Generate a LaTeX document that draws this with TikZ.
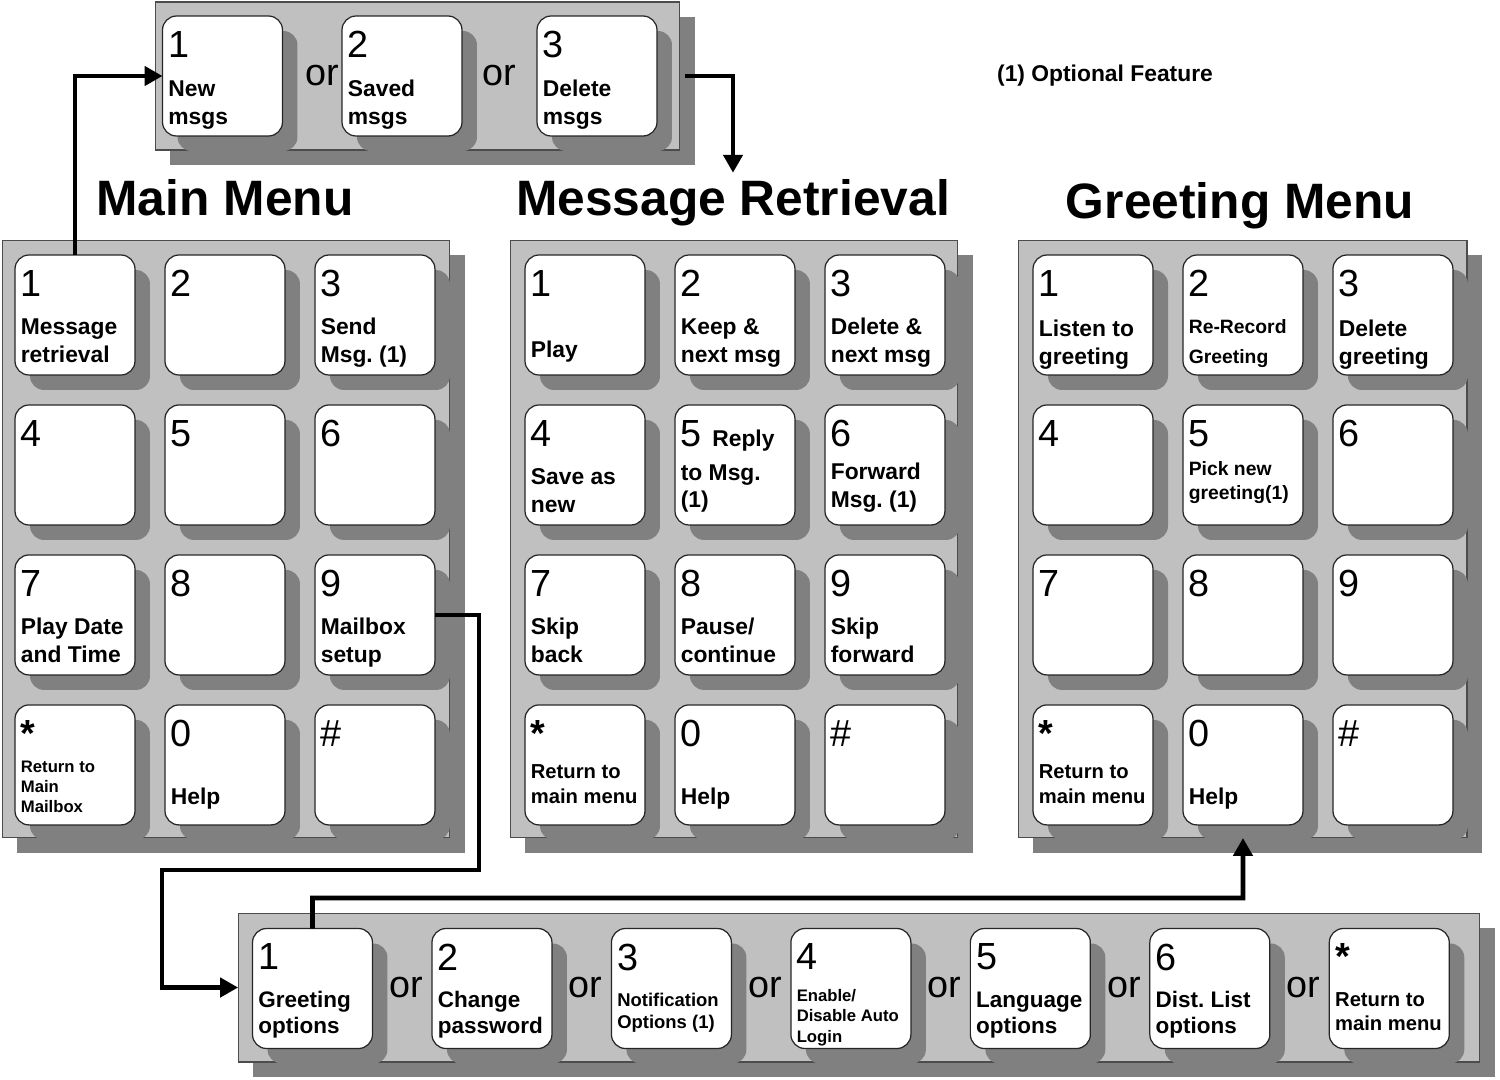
\documentclass[tikz,border=0pt]{standalone}
\usepackage{fontspec}
\setmainfont{Liberation Sans}
\frenchspacing
\usepackage{tikz}
\usetikzlibrary{positioning, calc, arrows.meta, shadows}
\definecolor{panelgray}{RGB}{192,192,192}
\definecolor{shadegray}{RGB}{128,128,128}
\tikzstyle{panel}=[shape=rectangle,
                fill=panelgray,
                draw=black!70,
                line width=0.6pt,
                inner sep=0pt, outer sep=0pt,
                drop shadow={shadow xshift=0.3cm, shadow yshift=-0.3cm, fill=shadegray, draw=none, opacity=1}]
\tikzstyle{key}=[shape=rectangle,
                rounded corners=0.28cm,
                fill=white,
                draw=black!85,
                line width=0.7pt,
                minimum width=2.4cm,
                minimum height=2.4cm,
                inner sep=0pt, outer sep=0pt,
                drop shadow={shadow xshift=0.3cm, shadow yshift=-0.3cm, fill=shadegray, draw=none, opacity=1}]
\tikzstyle{dig}=[anchor=north west, inner sep=0pt, xshift=0.11cm, yshift=-0.3cm,
                font=\fontsize{21.5}{21.5}\selectfont]
\tikzstyle{txt}=[anchor=south west, inner sep=0pt, text depth=0pt, align=left,
                xshift=0.11cm, yshift=0.24cm,
                font=\bfseries\fontsize{13}{15.9}\selectfont]
\tikzstyle{orword}=[inner sep=0pt, font=\fontsize{21.5}{21.5}\selectfont]
\tikzstyle{title}=[anchor=base, font=\bfseries\fontsize{28.3}{28.3}\selectfont]
\tikzstyle{flow}=[->, line width=2.6pt]

\begin{document}
\begin{tikzpicture}[x=0.02cm, y=-0.02cm, >={Triangle[length=0.36cm, width=0.38cm]}]
\useasboundingbox (0,0) rectangle (1500,1079);

% message choice
\node[panel, minimum width=10.5cm, minimum height=2.96cm] (msgpanel) at (417.5,76) {};
\node[key] (t1) at (222.5,76) {};
\node[dig] (t1n) at (t1.north west) {1};
\node[txt, yshift=-0.02cm] (t1l) at (t1.south west) {New\\msgs};
\node[key] (t2) at (402,76) {};
\node[dig] (t2n) at (t2.north west) {2};
\node[txt, yshift=-0.02cm] (t2l) at (t2.south west) {Saved\\msgs};
\node[key] (t3) at (597,76) {};
\node[dig] (t3n) at (t3.north west) {3};
\node[txt, yshift=-0.02cm] (t3l) at (t3.south west) {Delete\\msgs};
\node[orword] (or1) at (322,76) {or};
\node[orword] (or2) at (499,76) {or};

\node[font=\bfseries\fontsize{13}{15}\selectfont] (note) at (1105,76) {(1) Optional Feature};

% titles
\node[title] (maintitle) at (225,215) {Main Menu};
\node[title] (retrtitle) at (733,215) {Message Retrieval};
\node[title] (greettitle) at (1240,218) {Greeting Menu};

% main menu
\node[panel, minimum width=8.96cm, minimum height=11.96cm] (mainpanel) at (226,539) {};
\node[key] (m1) at (75,315) {};
\node[key, right=0.6cm of m1] (m2) {};
\node[key, right=0.6cm of m2] (m3) {};
\node[key, below=0.6cm of m1] (m4) {};
\node[key, right=0.6cm of m4] (m5) {};
\node[key, right=0.6cm of m5] (m6) {};
\node[key, below=0.6cm of m4] (m7) {};
\node[key, right=0.6cm of m7] (m8) {};
\node[key, right=0.6cm of m8] (m9) {};
\node[key, below=0.6cm of m7] (mstar) {};
\node[key, right=0.6cm of mstar] (m0) {};
\node[key, right=0.6cm of m0] (mhash) {};

\node[dig] (m1n) at (m1.north west) {1};
\node[txt] (m1l) at (m1.south west) {Message\\retrieval};
\node[dig] (m2n) at (m2.north west) {2};
\node[dig] (m3n) at (m3.north west) {3};
\node[txt] (m3l) at (m3.south west) {Send\\Msg. (1)};
\node[dig] (m4n) at (m4.north west) {4};
\node[dig] (m5n) at (m5.north west) {5};
\node[dig] (m6n) at (m6.north west) {6};
\node[dig] (m7n) at (m7.north west) {7};
\node[txt] (m7l) at (m7.south west) {Play Date\\and Time};
\node[dig] (m8n) at (m8.north west) {8};
\node[dig] (m9n) at (m9.north west) {9};
\node[txt] (m9l) at (m9.south west) {Mailbox\\setup};
\node[dig] (mstarn) at (mstar.north west) {\bfseries *};
\node[txt, font=\bfseries\fontsize{9.5}{11.3}\selectfont] (mstarl) at (mstar.south west) {Return to\\Main\\Mailbox};
\node[dig] (m0n) at (m0.north west) {0};
\node[txt, yshift=0.16cm] (m0l) at (m0.south west) {Help};
\node[dig] (mhashn) at (mhash.north west) {\#};

% message retrieval
\node[panel, minimum width=8.96cm, minimum height=11.96cm] (retrpanel) at (734,539) {};
\node[key] (r1) at (585,315) {};
\node[key, right=0.6cm of r1] (r2) {};
\node[key, right=0.6cm of r2] (r3) {};
\node[key, below=0.6cm of r1] (r4) {};
\node[key, right=0.6cm of r4] (r5) {};
\node[key, right=0.6cm of r5] (r6) {};
\node[key, below=0.6cm of r4] (r7) {};
\node[key, right=0.6cm of r7] (r8) {};
\node[key, right=0.6cm of r8] (r9) {};
\node[key, below=0.6cm of r7] (rstar) {};
\node[key, right=0.6cm of rstar] (r0) {};
\node[key, right=0.6cm of r0] (rhash) {};

\node[dig] (r1n) at (r1.north west) {1};
\node[txt, yshift=0.1cm] (r1l) at (r1.south west) {Play};
\node[dig] (r2n) at (r2.north west) {2};
\node[txt] (r2l) at (r2.south west) {Keep \&\\next msg};
\node[dig] (r3n) at (r3.north west) {3};
\node[txt] (r3l) at (r3.south west) {Delete \&\\next msg};
\node[dig] (r4n) at (r4.north west) {4};
\node[txt] (r4l) at (r4.south west) {Save as\\new};
\node[dig] (r5n) at (r5.north west) {5 {\bfseries\fontsize{13}{15}\selectfont Reply}};
\node[txt, yshift=0.1cm, font=\bfseries\fontsize{13}{15.3}\selectfont] (r5l) at (r5.south west) {to Msg.\\(1)};
\node[dig] (r6n) at (r6.north west) {6};
\node[txt, yshift=0.1cm] (r6l) at (r6.south west) {Forward\\Msg. (1)};
\node[dig] (r7n) at (r7.north west) {7};
\node[txt] (r7l) at (r7.south west) {Skip\\back};
\node[dig] (r8n) at (r8.north west) {8};
\node[txt] (r8l) at (r8.south west) {Pause/\\continue};
\node[dig] (r9n) at (r9.north west) {9};
\node[txt] (r9l) at (r9.south west) {Skip\\forward};
\node[dig] (rstarn) at (rstar.north west) {\bfseries *};
\node[txt, yshift=0.18cm, font=\bfseries\fontsize{11.5}{14.2}\selectfont] (rstarl) at (rstar.south west) {Return to\\main menu};
\node[dig] (r0n) at (r0.north west) {0};
\node[txt, yshift=0.16cm] (r0l) at (r0.south west) {Help};
\node[dig] (rhashn) at (rhash.north west) {\#};

% greeting menu
\node[panel, minimum width=8.98cm, minimum height=11.96cm] (greetpanel) at (1242.5,539) {};
\node[key] (g1) at (1093,315) {};
\node[key, right=0.6cm of g1] (g2) {};
\node[key, right=0.6cm of g2] (g3) {};
\node[key, below=0.6cm of g1] (g4) {};
\node[key, right=0.6cm of g4] (g5) {};
\node[key, right=0.6cm of g5] (g6) {};
\node[key, below=0.6cm of g4] (g7) {};
\node[key, right=0.6cm of g7] (g8) {};
\node[key, right=0.6cm of g8] (g9) {};
\node[key, below=0.6cm of g7] (gstar) {};
\node[key, right=0.6cm of gstar] (g0) {};
\node[key, right=0.6cm of g0] (ghash) {};

\node[dig] (g1n) at (g1.north west) {1};
\node[txt, yshift=-0.04cm] (g1l) at (g1.south west) {Listen to\\greeting};
\node[dig] (g2n) at (g2.north west) {2};
\node[txt, yshift=-0.02cm, font=\bfseries\fontsize{11}{17}\selectfont] (g2l) at (g2.south west) {Re-Record\\Greeting};
\node[dig] (g3n) at (g3.north west) {3};
\node[txt, yshift=-0.04cm] (g3l) at (g3.south west) {Delete\\greeting};
\node[dig] (g4n) at (g4.north west) {4};
\node[dig] (g5n) at (g5.north west) {5};
\node[txt, yshift=0.26cm, font=\bfseries\fontsize{11}{13.6}\selectfont] (g5l) at (g5.south west) {Pick new\\greeting(1)};
\node[dig] (g6n) at (g6.north west) {6};
\node[dig] (g7n) at (g7.north west) {7};
\node[dig] (g8n) at (g8.north west) {8};
\node[dig] (g9n) at (g9.north west) {9};
\node[dig] (gstarn) at (gstar.north west) {\bfseries *};
\node[txt, yshift=0.18cm, font=\bfseries\fontsize{11.5}{14.2}\selectfont] (gstarl) at (gstar.south west) {Return to\\main menu};
\node[dig] (g0n) at (g0.north west) {0};
\node[txt, yshift=0.16cm] (g0l) at (g0.south west) {Help};
\node[dig] (ghashn) at (ghash.north west) {\#};

% mailbox setup
\node[panel, minimum width=24.84cm, minimum height=2.98cm] (setpanel) at (859,987.5) {};
\node[key] (b1) at (312.5,988.5) {};
\node[key, right=1.19cm of b1] (b2) {};
\node[key, right=1.19cm of b2] (b3) {};
\node[key, right=1.19cm of b3] (b4) {};
\node[key, right=1.19cm of b4] (b5) {};
\node[key, right=1.19cm of b5] (b6) {};
\node[key, right=1.19cm of b6] (bstar) {};

\node[dig] (b1n) at (b1.north west) {1};
\node[txt, yshift=0.06cm, font=\bfseries\fontsize{12.8}{14.7}\selectfont] (b1l) at (b1.south west) {Greeting\\options};
\node[dig] (b2n) at (b2.north west) {2};
\node[txt, yshift=0.06cm, font=\bfseries\fontsize{12.8}{14.7}\selectfont] (b2l) at (b2.south west) {Change\\password};
\node[dig] (b3n) at (b3.north west) {3};
\node[txt, yshift=0.16cm, font=\bfseries\fontsize{10.5}{12.5}\selectfont] (b3l) at (b3.south west) {Notification\\Options (1)};
\node[dig] (b4n) at (b4.north west) {4};
\node[txt, yshift=-0.12cm, font=\bfseries\fontsize{9.5}{11.6}\selectfont] (b4l) at (b4.south west) {Enable/\\Disable Auto\\Login};
\node[dig] (b5n) at (b5.north west) {5};
\node[txt, yshift=0.06cm, font=\bfseries\fontsize{12.8}{14.7}\selectfont] (b5l) at (b5.south west) {Language\\options};
\node[dig] (b6n) at (b6.north west) {6};
\node[txt, yshift=0.06cm, font=\bfseries\fontsize{12.8}{14.7}\selectfont] (b6l) at (b6.south west) {Dist. List\\options};
\node[dig] (bstarn) at (bstar.north west) {\bfseries *};
\node[txt, yshift=0.12cm, font=\bfseries\fontsize{11.5}{13.6}\selectfont] (bstarl) at (bstar.south west) {Return to\\main menu};

\node[orword] (or3) at (406,988) {or};
\node[orword] (or4) at (585,988) {or};
\node[orword] (or5) at (765,988) {or};
\node[orword] (or6) at (944,988) {or};
\node[orword] (or7) at (1124,988) {or};
\node[orword] (or8) at (1303,988) {or};

% paths
\coordinate (c1) at (479,870);
\coordinate (c2) at (162,870);
\coordinate (c3) at (1243,898);
\draw[flow] (m1.north) |- (t1.west);
\draw[flow] ([xshift=0.1cm]msgpanel.east) -| (retrtitle.north);
\draw[flow] (m9.east) -| (c1) -- (c2) |- (setpanel.west);
\draw[flow] (b1.north) |- (c3) -- (g0.south |- greetpanel.south);

\end{tikzpicture}
\end{document}
